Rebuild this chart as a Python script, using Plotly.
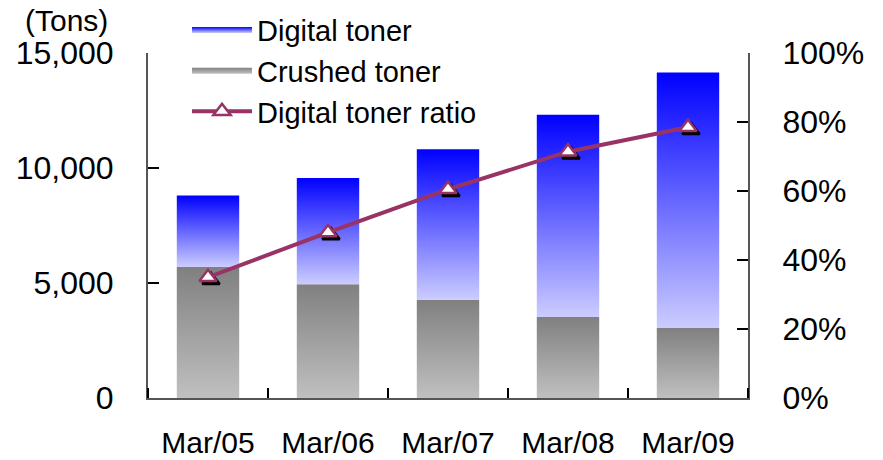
import plotly.graph_objects as go

# Annual toner volumes (tons) and the digital share
categories = ["Mar/05", "Mar/06", "Mar/07", "Mar/08", "Mar/09"]
crushed_toner = [5700, 4950, 4270, 3520, 3040]
digital_toner = [3100, 4620, 6540, 8800, 11110]
digital_ratio = [0.35, 0.48, 0.605, 0.714, 0.785]

y_ticks = [0, 5000, 10000, 15000]
y_ticktext = ["0", "5,000", "10,000", "15,000"]
ratio_ticks = [0, 0.2, 0.4, 0.6, 0.8, 1.0]
ratio_ticktext = ["0%", "20%", "40%", "60%", "80%", "100%"]

BAR_W = 0.52
FONT = "Liberation Sans, Arial, sans-serif"
LINE_COLOR = "#993366"
AXIS_COLOR = "#555555"

digital_scale = [[0, "rgb(204,204,255)"], [1, "rgb(0,0,255)"]]
crushed_scale = [[0, "rgb(192,192,192)"], [1, "rgb(128,128,128)"]]

n = len(categories)
fig = go.Figure()


def bar_segment(i, base, top, name, scale, show, rank):
    """A stacked bar segment as a filled rectangle with a vertical gradient."""
    x0, x1 = i - BAR_W / 2, i + BAR_W / 2
    return go.Scatter(
        x=[x0, x1, x1, x0, x0],
        y=[base, base, top, top, base],
        mode="none",
        fill="toself",
        fillgradient=dict(type="vertical", colorscale=scale, start=base, stop=top),
        name=name,
        legendgroup=name,
        showlegend=show,
        legendrank=rank,
        hoverinfo="skip",
        xaxis="x",
        yaxis="y",
    )


for i, (c, d) in enumerate(zip(crushed_toner, digital_toner)):
    fig.add_trace(bar_segment(i, 0, c, "Crushed toner", crushed_scale, i == 0, 2))
    fig.add_trace(bar_segment(i, c, c + d, "Digital toner", digital_scale, i == 0, 1))

# drop shadow behind the ratio markers (axes shifted a few pixels right/down)
fig.add_trace(go.Scatter(
    x=list(range(n)), y=digital_ratio,
    mode="markers",
    marker=dict(symbol="triangle-up", size=15, color="black",
                line=dict(color="black", width=2.5)),
    showlegend=False, hoverinfo="skip",
    xaxis="x2", yaxis="y2",
))

fig.add_trace(go.Scatter(
    x=list(range(n)), y=digital_ratio,
    mode="lines+markers",
    name="Digital toner ratio",
    line=dict(color=LINE_COLOR, width=4),
    marker=dict(symbol="triangle-up", size=15, color="white",
                line=dict(color=LINE_COLOR, width=2.5)),
    legendrank=3,
    xaxis="x3", yaxis="y3",
))

fig.update_layout(
    width=883, height=460,
    margin=dict(l=148, r=135, t=53, b=62, autoexpand=False),
    paper_bgcolor="white", plot_bgcolor="white",
    font=dict(family=FONT, color="black", size=32),
    showlegend=True,
    legend=dict(
        x=0.065, y=0.99, yref="container", xanchor="left", yanchor="top",
        bgcolor="rgba(0,0,0,0)",
        font=dict(family=FONT, size=29, color="black"),
        itemwidth=60,
        tracegroupgap=0,
        traceorder="normal",
    ),
    xaxis=dict(
        range=[-0.5, n - 0.5],
        tickmode="array",
        tickvals=list(range(n)),
        ticktext=categories,
        ticks="",
        tickfont=dict(family=FONT, size=30),
        ticklabelstandoff=17,
        minor=dict(ticks="inside", tick0=0.5, dtick=1, ticklen=10,
                   tickcolor="black", tickwidth=1.5),
        showline=True, linecolor=AXIS_COLOR, linewidth=2,
        showgrid=False, zeroline=False,
        automargin=False,
    ),
    xaxis2=dict(
        overlaying="x", range=[-0.525, n - 0.525],
        visible=False,
    ),
    xaxis3=dict(
        overlaying="x", range=[-0.5, n - 0.5],
        visible=False,
    ),
    yaxis=dict(
        range=[0, 15000],
        tickmode="array", tickvals=y_ticks, ticktext=y_ticktext,
        ticks="inside", ticklen=11, tickcolor="black", tickwidth=1.5,
        ticklabelstandoff=26,
        showline=True, linecolor=AXIS_COLOR, linewidth=2,
        showgrid=False, zeroline=False,
        tickfont=dict(size=32),
        automargin=False,
    ),
    yaxis2=dict(
        overlaying="y", range=[0.0087, 1.0087], visible=False,
    ),
    yaxis3=dict(
        overlaying="y", side="right", anchor="x3",
        range=[0, 1],
        tickmode="array", tickvals=ratio_ticks, ticktext=ratio_ticktext,
        ticks="inside", ticklen=11, tickcolor="black", tickwidth=1.5,
        ticklabelstandoff=26,
        showline=True, linecolor=AXIS_COLOR, linewidth=2,
        showgrid=False, zeroline=False,
        tickfont=dict(size=32),
        automargin=False,
    ),
    annotations=[dict(
        text="(Tons)", xref="paper", yref="paper",
        x=-0.063, y=1.093, xanchor="right", yanchor="middle",
        showarrow=False, font=dict(family=FONT, size=30, color="black"),
    )],
)

fig.write_html("out.html")
